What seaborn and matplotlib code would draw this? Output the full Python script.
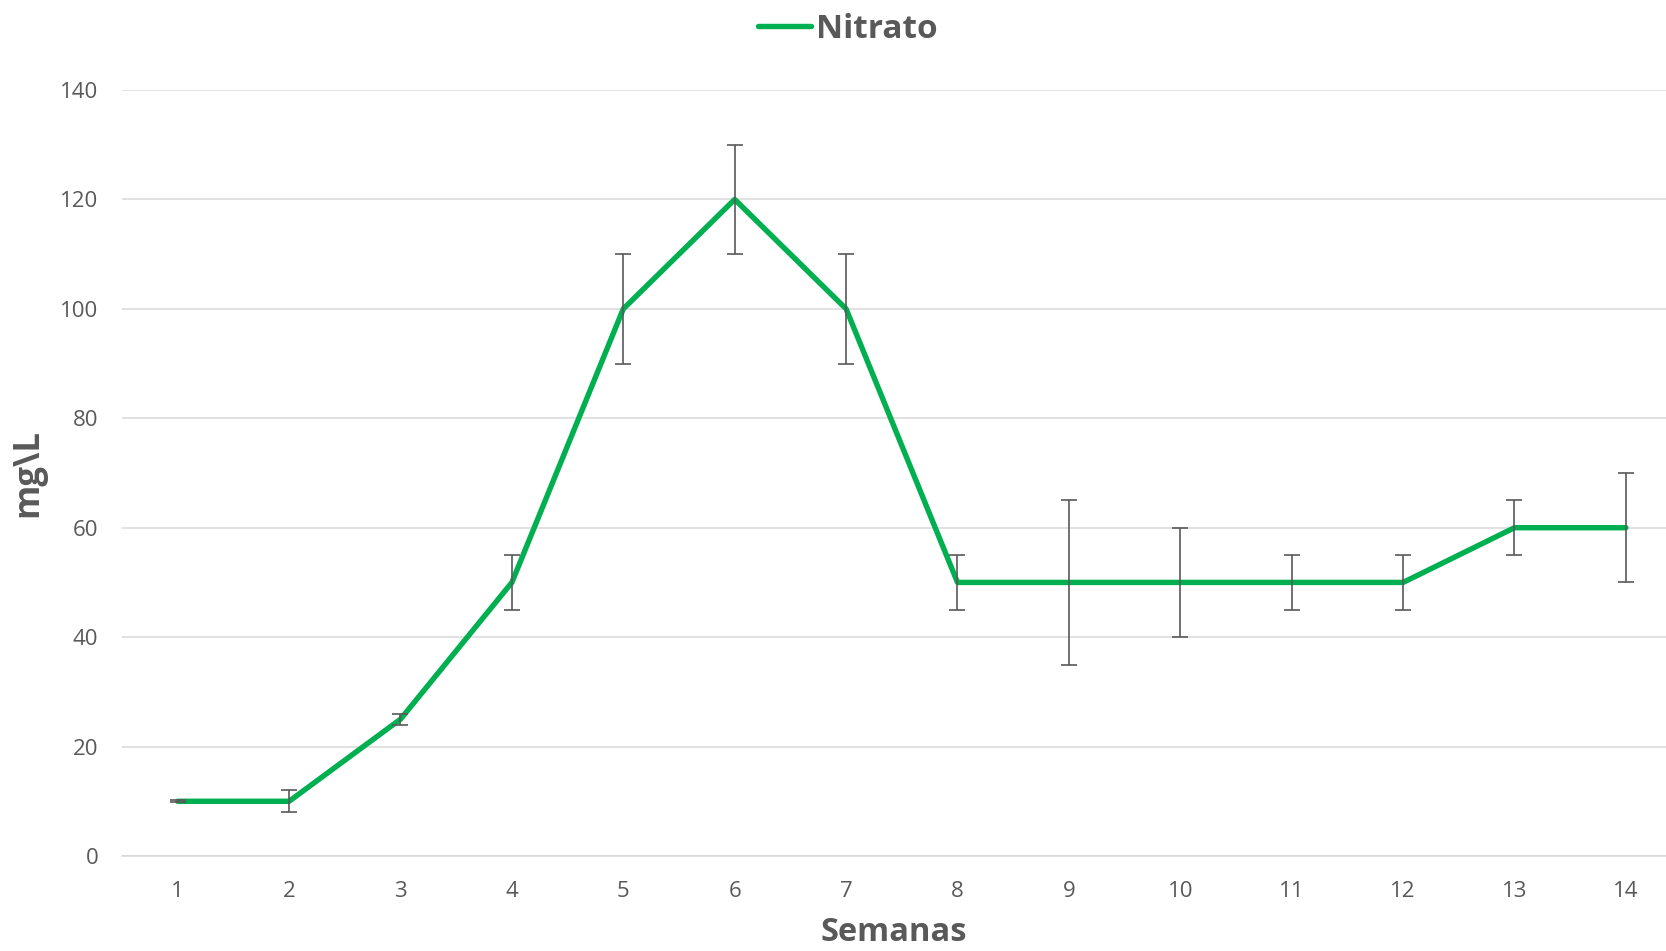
import matplotlib
matplotlib.use("Agg")
import matplotlib.pyplot as plt
import seaborn as sns
import pandas as pd

# data
semanas = [1, 2, 3, 4, 5, 6, 7, 8, 9, 10, 11, 12, 13, 14]
nitrato = [10, 10, 25, 50, 100, 120, 100, 50, 50, 50, 50, 50, 60, 60]
erro = [0.2, 2, 1, 5, 10, 10, 10, 5, 15, 10, 5, 5, 5, 10]

df = pd.DataFrame({"Semanas": semanas, "Nitrato": nitrato, "erro": erro})

sns.set_style("white")
plt.rcParams["font.family"] = ["Open Sans", "DejaVu Sans"]
cinza = "#595959"
verde = "#00B050"

fig = plt.figure(figsize=(16.66, 9.51), dpi=100)
ax = fig.add_axes([122 / 1666, 95 / 951, 1 - 122 / 1666, 766 / 951])

sns.lineplot(data=df, x="Semanas", y="Nitrato", color=verde, linewidth=3.9,
             label="Nitrato", ax=ax, zorder=3, solid_capstyle="round")
ax.errorbar(df["Semanas"], df["Nitrato"], yerr=df["erro"], fmt="none",
            ecolor=cinza, elinewidth=1.2, capsize=6, capthick=1.2, zorder=4)

ax.set_xlim(0.5, 14.36)
ax.set_ylim(0, 140)
ax.set_xticks(semanas)
ax.set_yticks(range(0, 141, 20))
ax.grid(axis="y", color="#D9D9D9", linewidth=1.1, zorder=0)
ax.grid(axis="x", visible=False)
for s in ["top", "right", "left"]:
    ax.spines[s].set_visible(False)
ax.spines["bottom"].set_color("#D9D9D9")
ax.spines["bottom"].set_linewidth(1.1)
ax.tick_params(axis="both", length=0, labelsize=16, labelcolor=cinza)
ax.tick_params(axis="y", pad=17)
ax.tick_params(axis="x", pad=18)

ax.set_xlabel("Semanas", fontsize=23.5, fontweight="bold", color=cinza, labelpad=10)
ax.set_ylabel("mg\\L", fontsize=25, fontweight="bold", color=cinza, labelpad=10)

leg = ax.legend(loc="center", bbox_to_anchor=(0.509, 0.969), bbox_transform=fig.transFigure,
                frameon=False, handlelength=1.6, handletextpad=0.15,
                prop={"size": 24, "weight": "bold"})
for t in leg.get_texts():
    t.set_color(cinza)

plt.savefig("out.png", dpi=100)
